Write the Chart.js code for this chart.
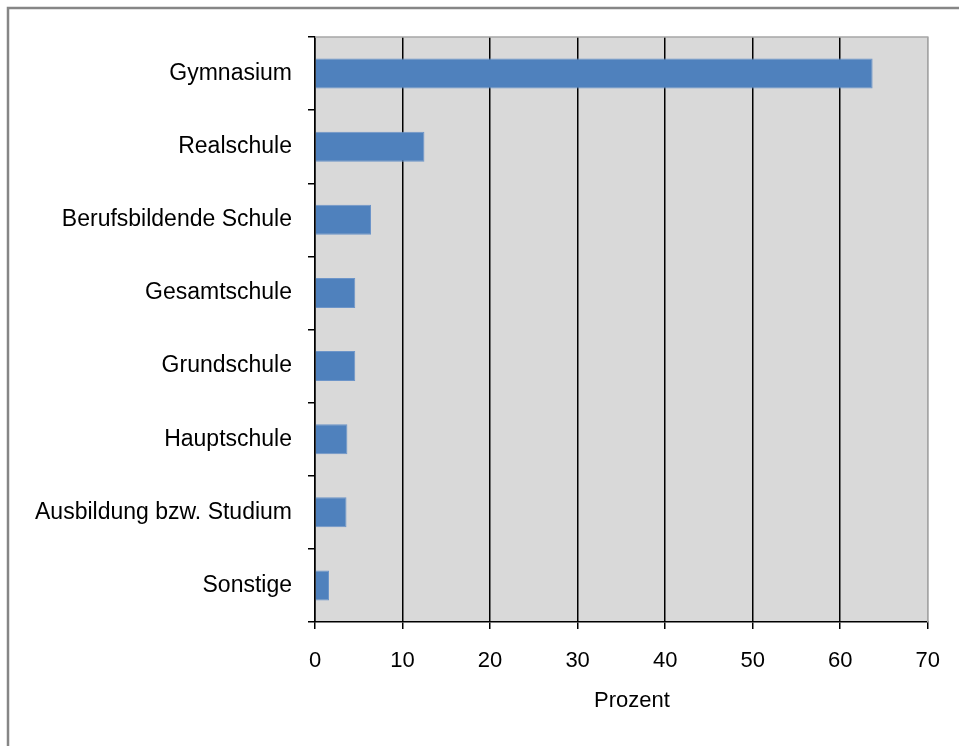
<!DOCTYPE html>
<html lang="de">
<head>
<meta charset="utf-8">
<title>Schulform – Prozent</title>
<script src="https://cdn.jsdelivr.net/npm/chart.js@4/dist/chart.umd.min.js"></script>
<style>
  html, body { margin: 0; padding: 0; background: #ffffff; }
  #wrap { position: relative; width: 959px; height: 746px; }
</style>
</head>
<body>
<div id="wrap"><canvas id="chart"></canvas></div>
<script>
// Schulformen und Anteile in Prozent
const categories = [
  'Gymnasium',
  'Realschule',
  'Berufsbildende Schule',
  'Gesamtschule',
  'Grundschule',
  'Hauptschule',
  'Ausbildung bzw. Studium',
  'Sonstige'
];
const percentages = [63.7, 12.5, 6.4, 4.6, 4.6, 3.7, 3.6, 1.6];
const xTickValues = [0, 10, 20, 30, 40, 50, 60, 70];
const axisTitle = 'Prozent';

const FONT = '"Liberation Sans", Arial, sans-serif';
const FONT_SIZE = 22;
const LABEL_SIZE = 23;

// grey plot background, grey top/right plot edge, axis title and the outer frame
const plotDecor = {
  id: 'plotDecor',
  beforeDraw(chart) {
    const { ctx, chartArea: a } = chart;
    ctx.save();
    ctx.fillStyle = '#d9d9d9';
    ctx.fillRect(a.left, a.top, a.right - a.left, a.bottom - a.top);
    ctx.restore();
  },
  afterDraw(chart) {
    const { ctx, chartArea: a } = chart;
    ctx.save();
    ctx.strokeStyle = '#a6a6a6';
    ctx.lineWidth = 1.5;
    ctx.beginPath();
    ctx.moveTo(a.left, a.top);
    ctx.lineTo(a.right, a.top);
    ctx.lineTo(a.right, a.bottom);
    ctx.stroke();

    // x axis title, set slightly right of the plot centre
    ctx.fillStyle = '#000000';
    ctx.font = FONT_SIZE + 'px ' + FONT;
    ctx.textAlign = 'center';
    ctx.textBaseline = 'middle';
    ctx.fillText(axisTitle, (a.left + a.right) / 2 + 10.5, a.bottom + 79);

    ctx.strokeStyle = '#868686';
    ctx.lineWidth = 2.5;
    ctx.beginPath();
    ctx.moveTo(8, chart.height);
    ctx.lineTo(8, 8);
    ctx.lineTo(chart.width, 8);
    ctx.stroke();
    ctx.restore();
  }
};

new Chart(document.getElementById('chart'), {
  type: 'bar',
  data: {
    labels: categories,
    datasets: [{
      data: percentages,
      backgroundColor: '#4f81bd',
      borderColor: '#6d95c9',
      borderWidth: 1,
      categoryPercentage: 1.0,
      barPercentage: 0.41
    }]
  },
  plugins: [plotDecor],
  options: {
    indexAxis: 'y',
    responsive: true,
    maintainAspectRatio: false,
    animation: false,
    layout: { padding: { top: 37, right: 31, left: 0, bottom: 0 } },
    plugins: {
      legend: { display: false },
      tooltip: { enabled: false }
    },
    scales: {
      x: {
        type: 'linear',
        position: 'bottom',
        min: 0,
        max: 70,
        afterBuildTicks(scale) {
          scale.ticks = xTickValues.map(v => ({ value: v }));
        },
        afterFit(scale) { scale.height = 124; },
        border: { display: true, color: '#000000', width: 1.5 },
        grid: {
          drawOnChartArea: true,
          drawTicks: true,
          tickLength: 7,
          lineWidth: 1.5,
          color: ctx => (ctx.tick && ctx.tick.value === 70 ? '#a6a6a6' : '#000000'),
          tickColor: '#000000'
        },
        ticks: {
          color: '#000000',
          padding: 19,
          maxRotation: 0,
          autoSkip: false,
          font: { family: FONT, size: FONT_SIZE }
        },
        title: { display: false }
      },
      y: {
        type: 'category',
        position: 'left',
        offset: true,
        afterFit(scale) { scale.width = 315; },
        border: { display: true, color: '#000000', width: 1.5 },
        grid: {
          offset: true,
          drawOnChartArea: false,
          drawTicks: true,
          tickLength: 7,
          lineWidth: 1.5,
          color: '#000000'
        },
        ticks: {
          color: '#000000',
          padding: 16,
          autoSkip: false,
          font: { family: FONT, size: LABEL_SIZE }
        }
      }
    }
  }
});
</script>
</body>
</html>
